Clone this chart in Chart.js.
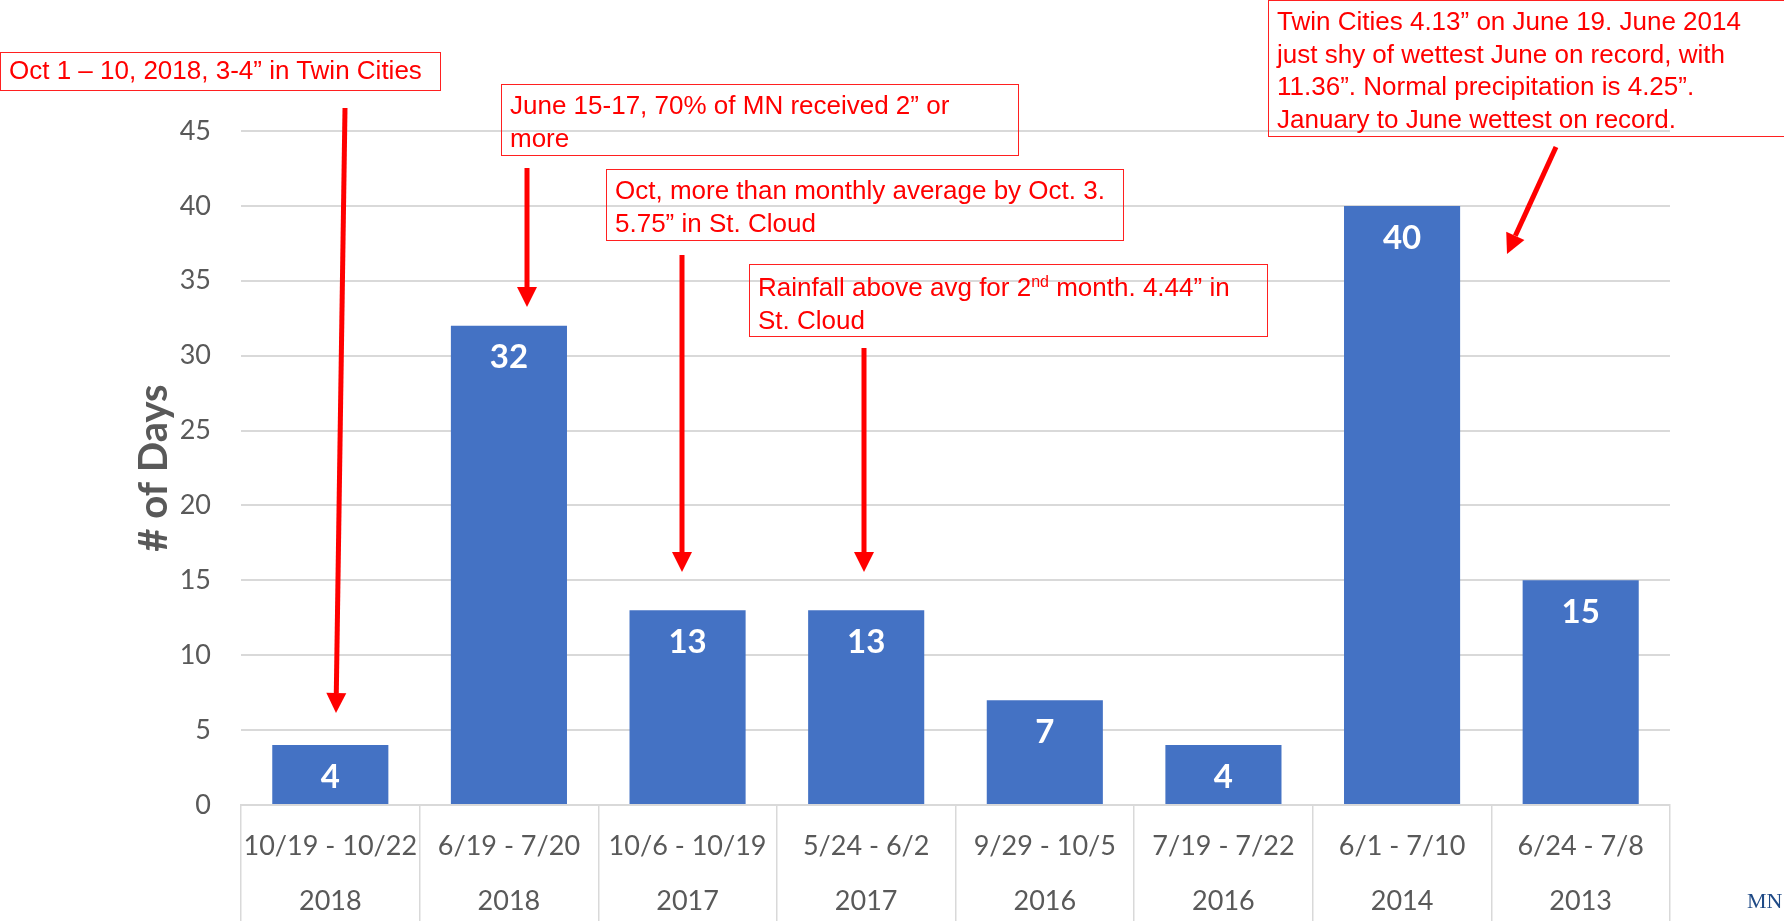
<!DOCTYPE html>
<html>
<head>
<meta charset="utf-8">
<title>Heavy rain periods</title>
<script src="https://cdn.jsdelivr.net/npm/chart.js@4.4.0/dist/chart.umd.min.js"></script>
<style>
  html, body { margin: 0; padding: 0; background: #fff; }
  #wrap { position: relative; width: 1784px; height: 921px; overflow: hidden; }
  #chart { position: absolute; left: 0; top: 0; }
  #arrows { position: absolute; left: 0; top: 0; pointer-events: none; }
  .note {
    position: absolute;
    box-sizing: border-box;
    border: 1.5px solid #ff2020;
    color: #ff0000;
    font-family: "Liberation Sans", Arial, sans-serif;
    font-size: 26px;
    line-height: 32.5px;
    padding: 4px 8px 0 8px;
    white-space: nowrap;
  }
  .note sup { font-size: 16px; line-height: 0; vertical-align: 9px; }
  #logo {
    position: absolute; left: 1747px; top: 890px;
    font-family: "Liberation Serif", serif; font-size: 22px; line-height: 22px; color: #1f4a86;
  }
</style>
</head>
<body>
<div id="wrap">
  <canvas id="chart" width="1784" height="921"></canvas>
  <svg id="arrows" width="1784" height="921"></svg>

  <div class="note" style="left:0; top:52px; width:441px; height:39px; padding-top:1px; line-height:32px;">Oct 1 – 10, 2018, 3-4” in Twin Cities</div>
  <div class="note" style="left:501px; top:84px; width:518px; height:72px;">June 15-17, 70% of MN received 2” or<br>more</div>
  <div class="note" style="left:606px; top:169px; width:518px; height:72px;">Oct, more than monthly average by Oct. 3.<br>5.75” in St. Cloud</div>
  <div class="note" style="left:749px; top:264px; width:519px; height:73px; padding-top:6px;">Rainfall above avg for 2<sup>nd</sup> month. 4.44” in<br>St. Cloud</div>
  <div class="note" style="left:1268px; top:0; width:560px; height:137px;">Twin Cities 4.13” on June 19. June 2014<br>just shy of wettest June on record, with<br>11.36”. Normal precipitation is 4.25”.<br>January to June wettest on record.</div>

  <div id="logo">MN</div>
</div>

<script>
'use strict';

/* ── DATA ── */
const ranges = ['10/19 - 10/22', '6/19 - 7/20', '10/6 - 10/19', '5/24 - 6/2',
                '9/29 - 10/5', '7/19 - 7/22', '6/1 - 7/10', '6/24 - 7/8'];
const years  = ['2018', '2018', '2017', '2017', '2016', '2016', '2014', '2013'];
const days   = [4, 32, 13, 13, 7, 4, 40, 15];

const yMin  = 0;
const yMax  = 45;
const yStep = 5;

/* ── COLOURS ── */
const BAR   = '#4472C4';
const GREY  = '#595959';
const GRID  = '#d9d9d9';

/* ── VALUE LABELS (inside bar top) ── */
const valueLabels = {
  id: 'valueLabels',
  afterDatasetsDraw(chart) {
    const ctx  = chart.ctx;
    const meta = chart.getDatasetMeta(0);
    ctx.save();
    ctx.fillStyle = '#fff';
    ctx.font = 'bold 33px Lato';
    ctx.textAlign = 'center';
    ctx.textBaseline = 'middle';
    meta.data.forEach((bar, i) => {
      ctx.fillText(String(days[i]), bar.x, bar.y + 32);
    });
    ctx.restore();
  },
};

new Chart(document.getElementById('chart'), {
  type: 'bar',
  data: {
    labels: ranges.map((r, i) => [r, years[i]]),
    datasets: [{
      data: days,
      backgroundColor: BAR,
      borderWidth: 0,
      barPercentage: 0.65,
      categoryPercentage: 1,
    }],
  },
  options: {
    responsive: false,
    animation: false,
    layout: { padding: { top: 131, right: 114, left: 0, bottom: 0 } },
    plugins: {
      legend: { display: false },
      tooltip: { enabled: false },
    },
    scales: {
      x: {
        afterFit: s => { s.height = 116; },
        grid: {
          offset: true,
          drawOnChartArea: false,
          drawTicks: true,
          tickLength: 116,
          color: GRID,
          lineWidth: 1.5,
        },
        border: { color: GRID, width: 2 },
        ticks: {
          color: GREY,
          font: { family: 'Lato', size: 27, lineHeight: 55 / 27 },
          padding: -102.5,
          autoSkip: false,
          maxRotation: 0,
        },
      },
      y: {
        min: yMin,
        max: yMax,
        afterFit: s => { s.width = 241; },
        grid: { color: GRID, lineWidth: 2, drawTicks: false },
        border: { display: false },
        ticks: {
          stepSize: yStep,
          color: GREY,
          font: { family: 'Lato', size: 27 },
          padding: 30,
        },
        title: {
          display: true,
          text: '# of Days',
          color: GREY,
          font: { family: 'Lato', size: 40, weight: 'bold', lineHeight: 1.2 },
          padding: { top: 130, bottom: 0 },
        },
      },
    },
  },
  plugins: [valueLabels],
});

/* ── ANNOTATION ARROWS ── */
const arrows = [
  [345, 108, 336, 713],
  [527, 168, 527, 307],
  [682, 255, 682, 572],
  [864, 348, 864, 572],
  [1556, 147, 1507, 254],
];

const svg = document.getElementById('arrows');
const NS  = 'http://www.w3.org/2000/svg';
arrows.forEach(([x1, y1, x2, y2]) => {
  const dx = x2 - x1, dy = y2 - y1;
  const len = Math.hypot(dx, dy);
  const ux = dx / len, uy = dy / len;
  const head = 20, half = 10;
  const bx = x2 - ux * head, by = y2 - uy * head;

  const line = document.createElementNS(NS, 'line');
  line.setAttribute('x1', x1); line.setAttribute('y1', y1);
  line.setAttribute('x2', bx);  line.setAttribute('y2', by);
  line.setAttribute('stroke', '#ff0000');
  line.setAttribute('stroke-width', 5);
  svg.appendChild(line);

  const poly = document.createElementNS(NS, 'polygon');
  poly.setAttribute('points',
    `${x2},${y2} ${bx - uy * half},${by + ux * half} ${bx + uy * half},${by - ux * half}`);
  poly.setAttribute('fill', '#ff0000');
  svg.appendChild(poly);
});
</script>
</body>
</html>
